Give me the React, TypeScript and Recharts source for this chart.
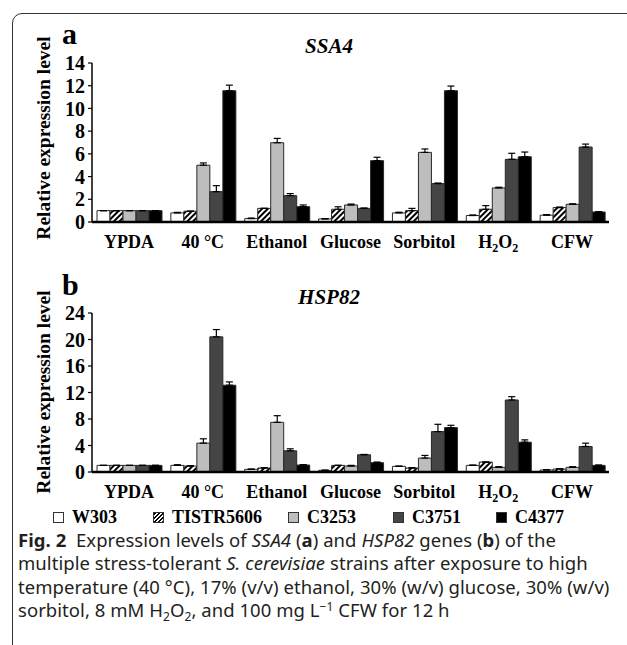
import React from 'react';
import { BarChart, Bar, XAxis, YAxis, ErrorBar } from 'recharts';

const categories = ['YPDA', '40 °C', 'Ethanol', 'Glucose', 'Sorbitol', 'H2O2', 'CFW'];
const strains = ['W303', 'TISTR5606', 'C3253', 'C3751', 'C4377'];

// SSA4 (panel a)
const ssa4W303 = [1.0, 0.8, 0.3, 0.27, 0.8, 0.57, 0.6];
const ssa4Tistr = [1.0, 0.95, 1.2, 1.12, 1.0, 1.12, 1.27];
const ssa4C3253 = [1.0, 5.0, 6.98, 1.5, 6.13, 3.0, 1.56];
const ssa4C3751 = [1.0, 2.67, 2.32, 1.2, 3.38, 5.52, 6.6];
const ssa4C4377 = [1.0, 11.56, 1.35, 5.4, 11.56, 5.75, 0.88];
const ssa4W303Err = [0, 0.05, 0.05, 0.03, 0.06, 0.05, 0.05];
const ssa4TistrErr = [0, 0, 0, 0.22, 0.2, 0.32, 0.05];
const ssa4C3253Err = [0, 0.2, 0.38, 0.08, 0.3, 0.06, 0.04];
const ssa4C3751Err = [0, 0.53, 0.18, 0.03, 0.05, 0.53, 0.26];
const ssa4C4377Err = [0, 0.49, 0.15, 0.3, 0.41, 0.41, 0.03];
const ssa4Ticks = [0, 2, 4, 6, 8, 10, 12, 14];

// HSP82 (panel b)
const hspW303 = [1.0, 1.0, 0.4, 0.25, 0.85, 1.0, 0.3];
const hspTistr = [1.0, 0.9, 0.6, 1.0, 0.6, 1.5, 0.45];
const hspC3253 = [1.0, 4.36, 7.5, 0.9, 2.1, 0.7, 0.7];
const hspC3751 = [1.0, 20.4, 3.2, 2.6, 6.1, 10.87, 3.85];
const hspC4377 = [1.0, 13.1, 1.05, 1.4, 6.7, 4.5, 1.0];
const hspW303Err = [0, 0.1, 0.05, 0.03, 0.05, 0.05, 0.05];
const hspTistrErr = [0, 0.05, 0.05, 0, 0.05, 0, 0.05];
const hspC3253Err = [0, 0.65, 1.0, 0.1, 0.4, 0.1, 0.1];
const hspC3751Err = [0, 1.1, 0.3, 0.05, 1.1, 0.5, 0.5];
const hspC4377Err = [0, 0.5, 0.05, 0.1, 0.35, 0.35, 0.05];
const hspTicks = [0, 4, 8, 12, 16, 20, 24];

const SERIF = "'Liberation Serif', 'Times New Roman', serif";
const SANS = "'Noto Sans', 'Open Sans', sans-serif";

const fills = ['#ffffff', 'url(#HATCH)', '#bdbdbd', '#454545', '#000000'];
const legendLeft = [53, 153, 288, 393, 496];

const buildRows = (vals: number[][], errs: number[][]) =>
  categories.map((name, i) => {
    const row: any = { name };
    vals.forEach((v, k) => {
      row['s' + k] = v[i];
      row['e' + k] = [0, errs[k][i]];
    });
    return row;
  });

const ssa4Rows = buildRows(
  [ssa4W303, ssa4Tistr, ssa4C3253, ssa4C3751, ssa4C4377],
  [ssa4W303Err, ssa4TistrErr, ssa4C3253Err, ssa4C3751Err, ssa4C4377Err]
);
const hspRows = buildRows(
  [hspW303, hspTistr, hspC3253, hspC3751, hspC4377],
  [hspW303Err, hspTistrErr, hspC3253Err, hspC3751Err, hspC4377Err]
);

const CatTick = ({ x, y, payload }: any) => {
  const v = payload.value;
  const common = {
    x,
    y: y + 26,
    textAnchor: 'middle' as const,
    fontFamily: SERIF,
    fontWeight: 700,
    fontSize: 18,
    fill: '#000',
  };
  if (v === 'H2O2') {
    return (
      <text {...common}>
        <tspan>H</tspan>
        <tspan dy={4} fontSize={12}>2</tspan>
        <tspan dy={-4}>O</tspan>
        <tspan dy={4} fontSize={12}>2</tspan>
      </text>
    );
  }
  return <text {...common}>{v}</text>;
};

const Panel = ({ rows, ticks, max, id }: any) => (
  <BarChart
    width={627}
    height={260}
    data={rows}
    margin={{ top: 63, right: 18, left: 52, bottom: 8 }}
    barCategoryGap={5}
    barGap={0}
  >
    <defs>
      <pattern
        id={id}
        patternUnits="userSpaceOnUse"
        width={4}
        height={4}
        patternTransform="rotate(45)"
      >
        <rect width={4} height={4} fill="#fff" />
        <line x1={1} y1={0} x2={1} y2={4} stroke="#000" strokeWidth={2} />
      </pattern>
    </defs>
    <XAxis
      dataKey="name"
      height={30}
      axisLine={{ stroke: '#000', strokeWidth: 2.5 }}
      tickLine={false}
      tickSize={0}
      tickMargin={0}
      interval={0}
      tick={(p: any) => <CatTick {...p} />}
    />
    <YAxis
      width={40}
      domain={[0, max]}
      ticks={ticks}
      interval={0}
      axisLine={{ stroke: '#000', strokeWidth: 1.5 }}
      tickLine={{ stroke: '#000', strokeWidth: 1.2 }}
      tickSize={4}
      tickMargin={3}
      tick={{ fontFamily: SERIF, fontWeight: 700, fontSize: 20, fill: '#000' }}
    />
    {strains.map((s, k) => (
      <Bar
        key={s}
        dataKey={'s' + k}
        name={s}
        fill={fills[k].replace('HATCH', id)}
        stroke="#2a2a2a"
        strokeWidth={1}
        isAnimationActive={false}
      >
        <ErrorBar dataKey={'e' + k} width={3.5} stroke="#000" strokeWidth={1.2} direction="y" />
      </Bar>
    ))}
  </BarChart>
);

const YTitle = ({ cy }: { cy: number }) => (
  <div
    style={{
      position: 'absolute',
      left: 43.5,
      top: cy,
      transform: 'translate(-50%, -50%) rotate(-90deg)',
      fontFamily: SERIF,
      fontWeight: 700,
      fontSize: 19.5,
      whiteSpace: 'nowrap',
      color: '#000',
    }}
  >
    Relative expression level
  </div>
);

const LegendBox = ({ k }: { k: number }) => (
  <span
    style={{
      display: 'inline-block',
      width: 9,
      height: 9,
      border: '1px solid #333',
      marginRight: 8,
      background:
        k === 1
          ? 'repeating-linear-gradient(135deg, #000 0 1.5px, #fff 1.5px 3px)'
          : fills[k],
    }}
  />
);

const subStyle = { fontSize: 12, lineHeight: 0, verticalAlign: 'baseline', position: 'relative' as const };

export default function App() {
  return (
    <div
      style={{
        position: 'absolute',
        left: 0,
        top: 0,
        width: 627,
        height: 645,
        overflow: 'hidden',
        background: '#fff',
      }}
    >
      <div
        style={{
          position: 'absolute',
          left: 12,
          top: 13,
          width: 700,
          height: 645,
          border: '1.5px solid #333',
          borderRadius: 10,
        }}
      />
      <div style={{ position: 'absolute', left: 0, top: 0 }}>
        <Panel rows={ssa4Rows} ticks={ssa4Ticks} max={14} id="hatchA" />
      </div>
      <div style={{ position: 'absolute', left: 0, top: 250 }}>
        <Panel rows={hspRows} ticks={hspTicks} max={24} id="hatchB" />
      </div>
      <YTitle cy={138} />
      <YTitle cy={392} />
      <div style={{ position: 'absolute', left: 62, top: 17, fontFamily: SERIF, fontWeight: 700, fontSize: 30 }}>a</div>
      <div style={{ position: 'absolute', left: 62, top: 268, fontFamily: SERIF, fontWeight: 700, fontSize: 30 }}>b</div>
      <div
        style={{
          position: 'absolute',
          left: 329,
          top: 46,
          transform: 'translate(-50%, -50%)',
          fontFamily: SERIF,
          fontWeight: 700,
          fontStyle: 'italic',
          fontSize: 21,
        }}
      >
        SSA4
      </div>
      <div
        style={{
          position: 'absolute',
          left: 329,
          top: 297,
          transform: 'translate(-50%, -50%)',
          fontFamily: SERIF,
          fontWeight: 700,
          fontStyle: 'italic',
          fontSize: 21,
        }}
      >
        HSP82
      </div>
      {strains.map((s, k) => (
        <div
          key={s}
          style={{
            position: 'absolute',
            left: legendLeft[k],
            top: 507,
            display: 'flex',
            alignItems: 'center',
            fontFamily: SERIF,
            fontWeight: 700,
            fontSize: 18,
            whiteSpace: 'nowrap',
          }}
        >
          <LegendBox k={k} />
          {s}
        </div>
      ))}
      <div
        style={{
          position: 'absolute',
          left: 18,
          top: 528,
          fontFamily: SANS,
          fontSize: 18.5,
          lineHeight: '23.3px',
          color: '#231f20',
          whiteSpace: 'nowrap',
          letterSpacing: 0.05,
        }}
      >
        <div>
          <b>Fig. 2</b>&nbsp; Expression levels of <i>SSA4</i> (<b>a</b>) and <i>HSP82</i> genes (<b>b</b>) of the
        </div>
        <div>
          multiple stress-tolerant <i>S. cerevisiae</i> strains after exposure to high
        </div>
        <div>temperature (40 °C), 17% (v/v) ethanol, 30% (w/v) glucose, 30% (w/v)</div>
        <div>
          sorbitol, 8 mM H<span style={{ ...subStyle, top: 4 }}>2</span>O
          <span style={{ ...subStyle, top: 4 }}>2</span>, and 100 mg L
          <span style={{ ...subStyle, top: -6 }}>−1</span> CFW for 12 h
        </div>
      </div>
    </div>
  );
}
